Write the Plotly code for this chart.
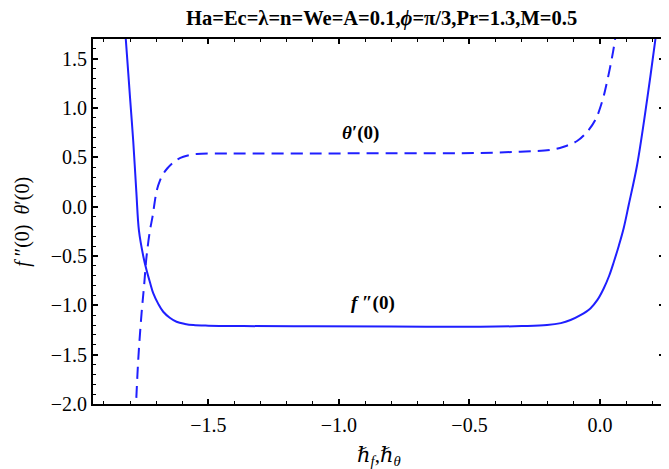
import plotly.graph_objects as go

# f''(0) solid curve
f_x = [-1.822, -1.816, -1.800, -1.788, -1.776, -1.766, -1.749, -1.737, -1.724, -1.711,
       -1.692, -1.673, -1.648, -1.622, -1.590, -1.558, -1.50, -1.366, -1.10, -0.80,
       -0.458, -0.30, -0.203, -0.150, -0.113, -0.075, -0.037, -0.010, 0.014, 0.035,
       0.053, 0.072, 0.091, 0.110, 0.142, 0.181, 0.216, 0.225]
f_y = [1.876, 1.684, 1.10, 0.669, 0.150, -0.243, -0.507, -0.642, -0.765, -0.879,
       -0.985, -1.065, -1.125, -1.166, -1.188, -1.200, -1.206, -1.210, -1.213, -1.215,
       -1.217, -1.210, -1.200, -1.180, -1.149, -1.100, -1.031, -0.945, -0.829, -0.700,
       -0.558, -0.395, -0.213, 0.020, 0.423, 1.098, 1.775, 1.95]

# theta'(0) dashed curve
t_x = [-1.779, -1.777, -1.768, -1.756, -1.746, -1.737, -1.724, -1.714, -1.698, -1.686,
       -1.673, -1.657, -1.641, -1.620, -1.596, -1.545, -1.45, -1.366, -1.10, -0.80,
       -0.458, -0.305, -0.190, -0.139, -0.088, -0.049, -0.018, 0.008, 0.027, 0.050,
       0.059]
t_y = [-2.13, -1.995, -1.521, -1.082, -0.790, -0.507, -0.243, -0.101, 0.162, 0.262,
       0.332, 0.390, 0.433, 0.477, 0.507, 0.534, 0.540, 0.540, 0.540, 0.542,
       0.545, 0.558, 0.575, 0.608, 0.666, 0.761, 0.879, 1.065, 1.268, 1.572,
       1.724]

x_ticks = [-1.5, -1.0, -0.5, 0.0]
y_ticks = [1.5, 1.0, 0.5, 0.0, -0.5, -1.0, -1.5, -2.0]

title_text = "<b>Ha=Ec=λ=n=We=A=0.1,<i>ϕ</i>=π/3,Pr=1.3,M=0.5</b>"
x_title = "<i>ℏ<sub>f</sub></i>,<i>ℏ<sub>θ</sub></i>"
y_title = "<i>f</i> ″(0)  <i>θ</i>′(0)"

BLUE = "#1f1fff"
SERIF = "Liberation Serif, Times New Roman, DejaVu Serif, serif"

fig = go.Figure()
fig.add_trace(go.Scatter(x=f_x, y=f_y, mode="lines",
                         line=dict(color=BLUE, width=2, shape="spline", smoothing=1.0),
                         showlegend=False))
fig.add_trace(go.Scatter(x=t_x, y=t_y, mode="lines",
                         line=dict(color=BLUE, width=2, dash="12px,7px", shape="spline", smoothing=1.0),
                         showlegend=False))

fig.add_annotation(x=-0.918, y=0.75, xref="x", yref="y", showarrow=False,
                   text="<b><i>θ</i>′(0)</b>", font=dict(family=SERIF, size=19, color="black"))
fig.add_annotation(x=-0.871, y=-0.98, xref="x", yref="y", showarrow=False,
                   text="<b><i>f</i> ″(0)</b>", font=dict(family=SERIF, size=19, color="black"))
fig.add_annotation(x=0.5, y=-0.142, xref="paper", yref="paper", showarrow=False,
                   yanchor="middle", text=x_title,
                   font=dict(family=SERIF, size=21, color="black"))
fig.add_annotation(x=-0.124, y=0.5, xref="paper", yref="paper", showarrow=False,
                   xanchor="center", yanchor="middle", textangle=-90, text=y_title,
                   font=dict(family=SERIF, size=20, color="black"))
fig.add_annotation(x=0.505, y=1.056, xref="paper", yref="paper", showarrow=False,
                   yanchor="middle", text=title_text,
                   font=dict(family=SERIF, size=20.5, color="black"))

axis_common = dict(
    showgrid=False, zeroline=False, showline=True, linecolor="black", linewidth=2,
    mirror="allticks", ticks="inside", ticklen=5, tickwidth=1.5, tickcolor="black",
    tickfont=dict(family=SERIF, size=20, color="black"), tickformat=".1f",
    automargin=False,
)

# the page body has an 8px margin, so the figure is sized/offset to compensate
fig.update_layout(
    width=661, height=461, autosize=False,
    margin=dict(l=85, r=5, t=31, b=65),
    paper_bgcolor="white", plot_bgcolor="white",
    font=dict(family=SERIF, color="black"),
    xaxis=dict(range=[-1.942, 0.245], tickvals=x_ticks, ticklabelstandoff=2,
               minor=dict(dtick=0.1, ticks="inside", ticklen=3, tickcolor="black", tickwidth=1),
               **axis_common),
    yaxis=dict(range=[-2.0, 1.70], tickvals=y_ticks, ticklabelstandoff=0,
               minor=dict(dtick=0.1, ticks="inside", ticklen=3, tickcolor="black", tickwidth=1),
               **axis_common),
)

fig.write_html("out.html")
